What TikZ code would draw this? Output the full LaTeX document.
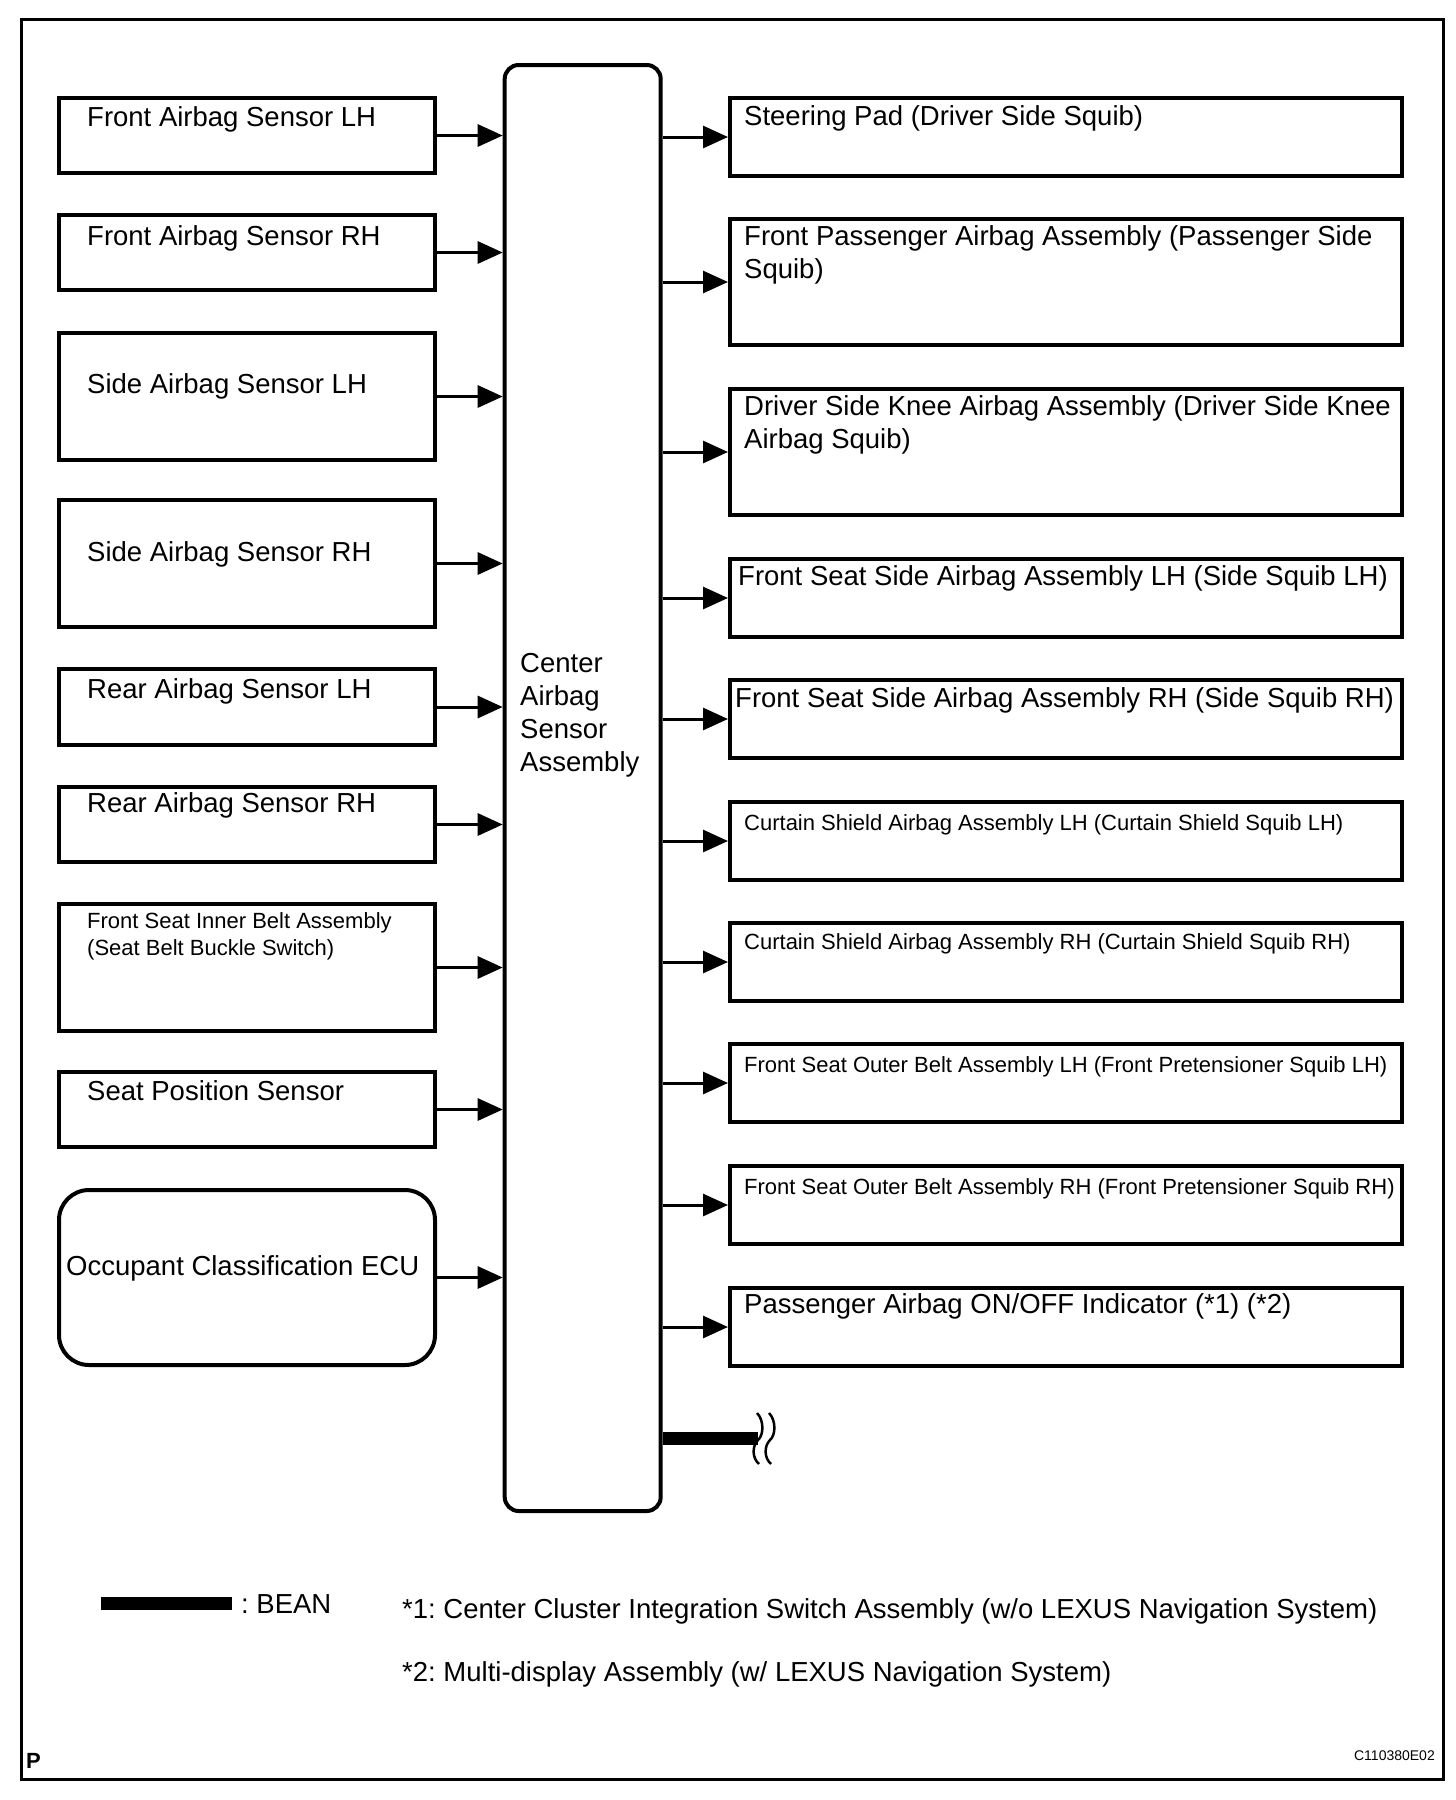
\documentclass[tikz,border=0pt]{standalone}
\usepackage{fontspec}
\setmainfont{Liberation Sans}
\usetikzlibrary{arrows.meta}
\frenchspacing
\newcommand{\bigtxt}{\fontsize{27.5}{33}\selectfont}
\newcommand{\smalltxt}{\fontsize{22}{26.5}\selectfont}

\begin{document}
\begin{tikzpicture}[x=1pt,y=-1pt,
  lbox/.style={draw,line width=4pt,inner sep=0pt,anchor=north west,minimum width=376pt},
  rbox/.style={draw,line width=4pt,inner sep=0pt,anchor=north west,minimum width=672pt},
  lt/.style={anchor=base west,inner sep=0pt,font=\bigtxt,align=left},
  st/.style={anchor=base west,inner sep=0pt,font=\smalltxt,align=left},
  sig/.style={line width=3pt,-{Triangle[length=25pt,width=22pt]}}]
  \useasboundingbox (0,0) rectangle (1456,1800);
  \draw[line width=3pt] (21,19.5) rectangle (1443,1779);

  % center unit
  \node[draw,line width=4pt,rounded corners=14pt,inner sep=0pt,anchor=north west,
        minimum width=156pt,minimum height=1446pt] (cas) at (502.7,63) {};
  \node[lt] at (520,771) {Center\\Airbag\\Sensor\\Assembly};

  % inputs
  \node[lbox,minimum height=75pt] (falh) at (57,96) {};
  \node[lbox,minimum height=75pt] (farh) at (57,213) {};
  \node[lbox,minimum height=127pt] (salh) at (57,331) {};
  \node[lbox,minimum height=127pt] (sarh) at (57,498) {};
  \node[lbox,minimum height=76pt] (ralh) at (57,667) {};
  \node[lbox,minimum height=75pt] (rarh) at (57,785) {};
  \node[lbox,minimum height=127pt] (belt) at (57,902) {};
  \node[lbox,minimum height=75pt] (seat) at (57,1070) {};
  \node[lbox,minimum height=175pt,rounded corners=30pt] (ocu) at (57,1188) {};

  \node[lt] at (87,126) {Front Airbag Sensor LH};
  \node[lt] at (87,245) {Front Airbag Sensor RH};
  \node[lt] at (87,393) {Side Airbag Sensor LH};
  \node[lt] at (87,561) {Side Airbag Sensor RH};
  \node[lt] at (87,698) {Rear Airbag Sensor LH};
  \node[lt] at (87,812) {Rear Airbag Sensor RH};
  \node[st] at (87,955) {Front Seat Inner Belt Assembly\\(Seat Belt Buckle Switch)};
  \node[lt] at (87,1100) {Seat Position Sensor};
  \node[lt] at (66,1275) {Occupant Classification ECU};

  \foreach \n in {falh,farh,salh,sarh,ralh,rarh,belt,seat,ocu}
    \draw[sig] (\n.east) -- (\n.east -| cas.west);

  % outputs
  \node[rbox,minimum height=78pt] (pad) at (728,96) {};
  \node[rbox,minimum height=126pt] (pass) at (728,217) {};
  \node[rbox,minimum height=126pt] (knee) at (728,387) {};
  \node[rbox,minimum height=78pt] (fslh) at (728,557) {};
  \node[rbox,minimum height=78pt] (fsrh) at (728,678) {};
  \node[rbox,minimum height=78pt] (cslh) at (728,800) {};
  \node[rbox,minimum height=78pt] (csrh) at (728,921) {};
  \node[rbox,minimum height=78pt] (oblh) at (728,1042) {};
  \node[rbox,minimum height=78pt] (obrh) at (728,1164) {};
  \node[rbox,minimum height=78pt] (ind) at (728,1286) {};

  \node[lt] at (744,125) {Steering Pad (Driver Side Squib)};
  \node[lt] at (744,278) {Front Passenger Airbag Assembly (Passenger Side\\Squib)};
  \node[lt] at (744,448) {Driver Side Knee Airbag Assembly (Driver Side Knee\\Airbag Squib)};
  \node[lt] at (738,585) {Front Seat Side Airbag Assembly LH (Side Squib LH)};
  \node[lt] at (735,707) {Front Seat Side Airbag Assembly RH (Side Squib RH)};
  \node[st] at (744,830) {Curtain Shield Airbag Assembly LH (Curtain Shield Squib LH)};
  \node[st] at (744,949) {Curtain Shield Airbag Assembly RH (Curtain Shield Squib RH)};
  \node[st] at (744,1072) {Front Seat Outer Belt Assembly LH (Front Pretensioner Squib LH)};
  \node[st] at (744,1194) {Front Seat Outer Belt Assembly RH (Front Pretensioner Squib RH)};
  \node[lt] at (744,1313) {Passenger Airbag ON/OFF Indicator (*1) (*2)};

  \foreach \n in {pad,pass,knee,fslh,fsrh,cslh,csrh,oblh,obrh,ind}
    \draw[sig] (cas.east |- \n.west) -- (\n.west);

  % BEAN bus
  \coordinate (busend) at (758,1438);
  \draw[line width=13pt] (cas.east |- busend) -- (busend);
  \draw[line width=2.5pt] (757,1413) .. controls (764,1420) and (764,1435) .. (758,1440)
    .. controls (752,1446) and (752,1458) .. (759,1464);
  \draw[line width=2.5pt] (769,1413) .. controls (776,1420) and (776,1435) .. (770,1440)
    .. controls (764,1446) and (764,1458) .. (771,1464);

  % legend
  \coordinate (bl) at (101,1603);
  \coordinate (br) at (232,1603);
  \draw[line width=13pt] (bl) -- (br);
  \node[lt] at (241,1613) {: BEAN};
  \node[lt] at (402,1618) {*1: Center Cluster Integration Switch Assembly (w/o LEXUS Navigation System)};
  \node[lt] at (402,1681) {*2: Multi-display Assembly (w/ LEXUS Navigation System)};
  \node[anchor=base west,inner sep=0pt,font=\fontsize{22}{26}\selectfont\bfseries] at (26,1768) {P};
  \node[anchor=base east,inner sep=0pt,font=\fontsize{14}{16}\selectfont] at (1435,1760) {C110380E02};
\end{tikzpicture}
\end{document}
